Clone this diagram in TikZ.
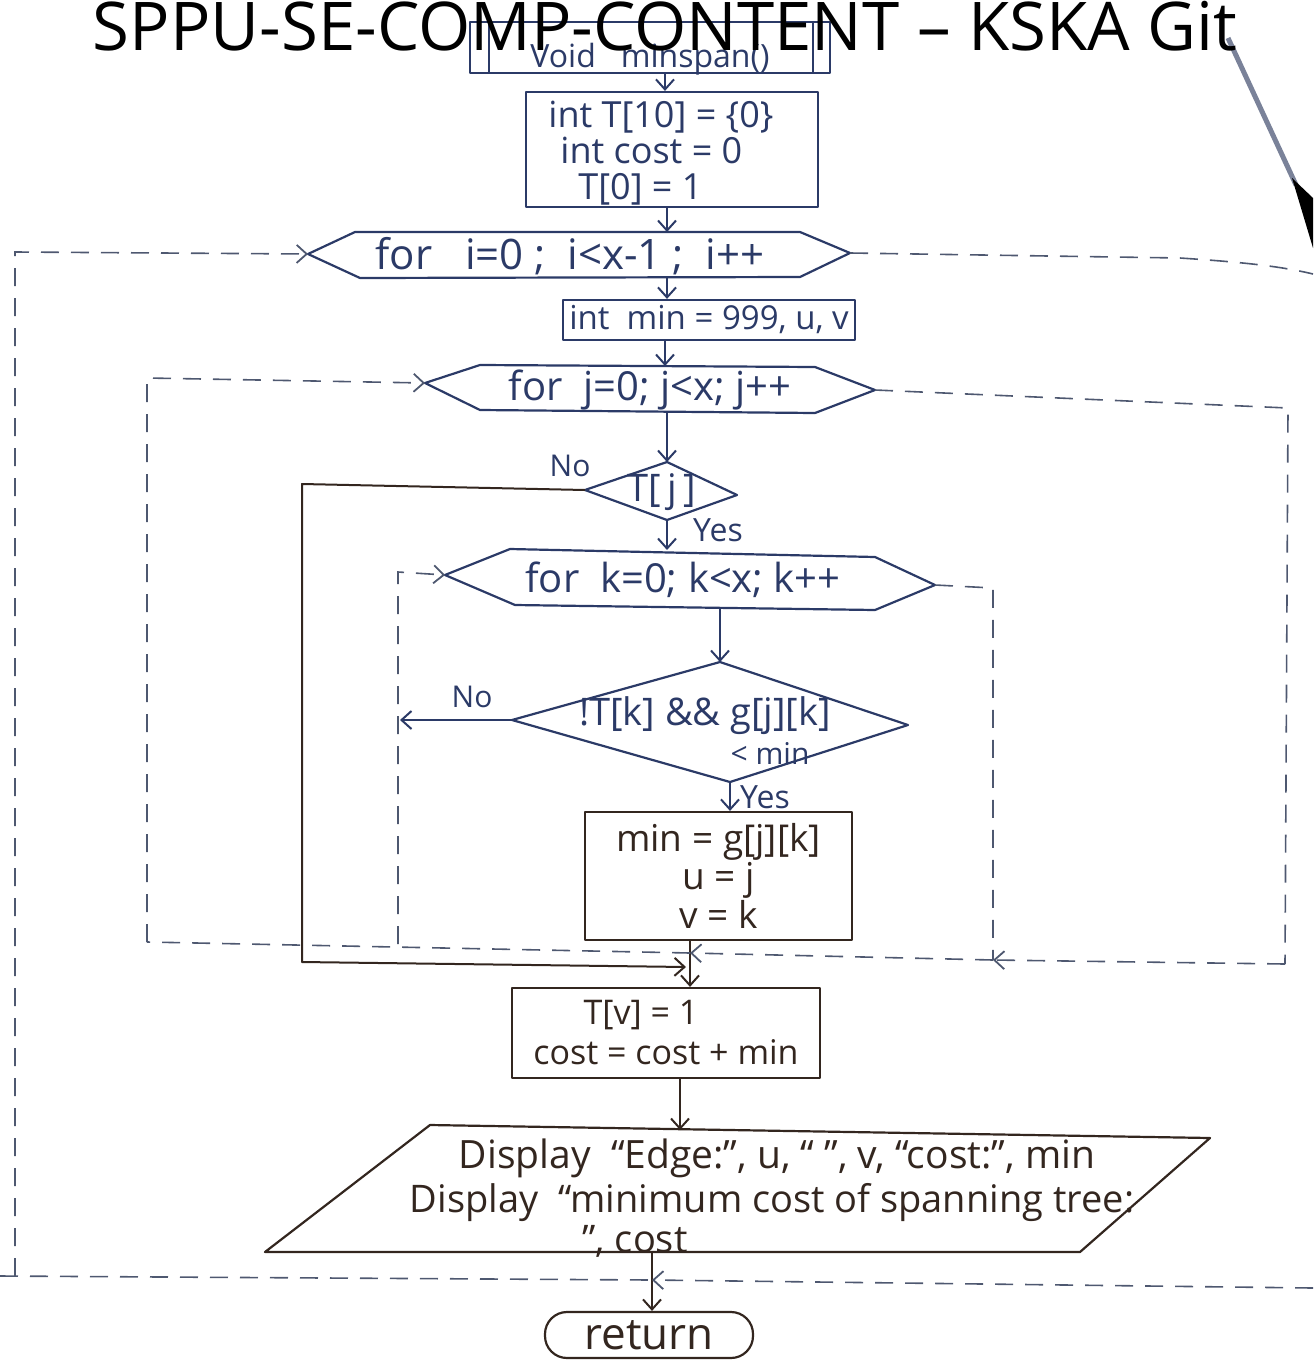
\documentclass[tikz,border=0pt]{standalone}
\usepackage{fontspec}
\setmainfont{Open Sans}
\usetikzlibrary{arrows.meta}
\definecolor{ink}{HTML}{2B3A67}
\definecolor{brn}{HTML}{33261F}
\definecolor{dashc}{HTML}{4E5870}
\definecolor{smear}{HTML}{7A8299}
\newcommand\handfont{\fontsize{16}{20}\selectfont}
\newcommand\hfs[1]{\fontsize{#1}{#1}\selectfont}
\tikzset{
  shp/.style={draw=#1, line width=1.1pt, line join=round},
  shp/.default=ink,
  box/.style={shp=#1, rectangle, inner sep=0pt, text=#1, font=\handfont},
  box/.default=ink,
  txt/.style={text=#1, font=\handfont, inner sep=0pt},
  txt/.default=ink,
  arr/.style={draw=#1, line width=1pt, -{Straight Barb[length=5pt,width=9pt,line width=1pt]}},
  arr/.default=ink,
  lnk/.style={draw=#1, line width=1pt, line join=round},
  lnk/.default=ink,
  dsh/.style={draw=dashc, line width=0.8pt, dash pattern=on 9pt off 6pt},
  darr/.style={dsh, -{Straight Barb[length=5pt,width=9pt,line width=0.9pt]}},
}
\begin{document}
\begin{tikzpicture}[x=0.5pt,y=-0.5pt]
\useasboundingbox (0,0) rectangle (1313,1365);

% ---------- top: void minspan() ----------
\node[box, minimum width=180pt, minimum height=25.5pt] (void) at (650,47.5) {};
\node[txt, font=\hfs{16}, anchor=base] (voidt) at (650,67) {Void\ \ \ minspan()};
\draw[shp] ([xshift=10pt]void.north west) -- ([xshift=10pt]void.south west);
\draw[shp] ([xshift=-9pt]void.north east) -- ([xshift=-9pt]void.south east);

% ---------- init box ----------
\node[box, minimum width=146pt, minimum height=57.5pt] (init) at (672,149.5) {};
\node[txt, anchor=north west, align=left, font=\fontsize{18}{18}\selectfont] (initt) at (548,101)
  {int T[10] = \{0\}\\\hspace*{6pt}int cost = 0\\\hspace*{15pt}T[0] = 1};
\draw[arr] ([xshift=7.5pt]void.south) -- ([xshift=7.5pt]void.south |- init.north);

% ---------- for i ----------
\draw[shp] (308,254) coordinate (fiL) -- (355,232) -- (800,232) -- (850,253) coordinate (fiR) -- (800,277) -- (360,278) -- cycle;
\coordinate (fiT) at (667,232);
\coordinate (fiB) at (667,278);
\node[txt, font=\hfs{21}] (fi) at (570,256) {for\ \ \ i=0 ; \ i<x-1 ; \ i++};
\draw[arr] (init.south -| fiT) -- (fiT);

% ---------- int min ----------
\node[box, minimum width=146pt, minimum height=20pt, font=\hfs{16.5}] (minb) at (709,320) {int\ \ min = 999, u, v};
\draw[arr] (fiB) -- (fiB |- minb.north);

% ---------- for j ----------
\draw[shp] (425,383) coordinate (fjL) -- (480,365) -- (815,367) -- (875,390) coordinate (fjR) -- (815,413) -- (480,410) -- cycle;
\coordinate (fjT) at (665,366);
\coordinate (fjB) at (667,411);
\node[txt, font=\hfs{20}] (fj) at (650,390) {for\ \ j=0;\ j<x;\ j++};
\draw[arr] (minb.south -| fjT) -- (fjT);

% ---------- T[j] ----------
\draw[shp] (585,490) coordinate (tjL) -- (667,462) coordinate (tjT) -- (737,495) -- (667,520) coordinate (tjB) -- cycle;
\node[txt, font=\hfs{19}] (tj) at (662,492) {T[\,j\,]};
\draw[arr] (fjB) -- (tjT);
\node[txt, font=\hfs{15}] (no1) at (570,466) {No};
\node[txt] (yes1) at (718,530) {Yes};

% ---------- for k ----------
\draw[shp] (445,575) coordinate (fkL) -- (510,549) -- (875,557) -- (935,585) coordinate (fkR) -- (875,610) -- (515,605) -- cycle;
\coordinate (fkT) at (667,550);
\coordinate (fkB) at (720,608);
\node[txt, font=\hfs{20}] (fk) at (683,580) {for\ \ k=0;\ k<x;\ k++};
\draw[arr] (tjB) -- (fkT);

% ---------- condition ----------
\draw[shp] (512,720) coordinate (cL) -- (720,662) coordinate (cT) -- (908,725) -- (730,782) coordinate (cB) -- cycle;
\node[txt, font=\hfs{19}] (c1) at (705,716) {!T[k] \&\& g[j][k]};
\node[txt, font=\hfs{15}] (c2) at (770,753) {< min};
\draw[arr] (fkB) -- (cT);
\coordinate (noEnd) at (400,720);
\draw[arr] (cL) -- (noEnd);
\node[txt, font=\hfs{15}] (no2) at (472,697) {No};
\node[txt] (yes2) at (765,797) {Yes};

% ---------- min = g[j][k] ----------
\node[box=brn, minimum width=133.5pt, minimum height=64pt, align=center, font=\fontsize{18.5}{18}\selectfont] (mon) at (718.5,876)
  {min = g[j][k]\\u = j\\v = k};
\draw[arr] (cB) -- (cB |- mon.north);

% ---------- T[v] = 1 ----------
\node[box=brn, minimum width=154pt, minimum height=45pt, align=center, font=\fontsize{17}{20}\selectfont] (tv) at (666,1033)
  {T[v] = 1\hspace*{25pt}\\cost = cost + min};
\coordinate (join) at (690,953);
\draw[arr=brn] (mon.south -| join) -- (tv.north -| join);

% ---------- output parallelogram ----------
\draw[shp=brn] (430,1125) -- (1210,1138) -- (1080,1252) -- (265,1252) -- cycle;
\coordinate (pT) at (680,1130);
\coordinate (pB) at (652,1252);
\node[txt=brn, font=\hfs{19.5}] (p1) at (777,1158) {Display \ “Edge:”, u, “ ”, v, “cost:”, min};
\node[txt=brn, font=\hfs{19}] (p2) at (772,1203) {Display \ “minimum cost of spanning tree:};
\node[txt=brn, font=\hfs{19}] (p3) at (635,1241) {”, cost};
\draw[arr=brn] (tv.south -| pT) -- (pT);

% ---------- return ----------
\node[box=brn, rounded corners=11pt, minimum width=104pt, minimum height=23pt, font=\hfs{22}] (ret) at (649,1335) {return};
\draw[arr=brn] (pB) -- (pB |- ret.north);

% ---------- T[j] No branch ----------
\coordinate (noA) at (302,484);
\coordinate (noB) at (302,962);
\draw[lnk=brn, -{Straight Barb[length=5pt,width=9pt,line width=1pt]}] (tjL) -- (noA) -- (noB) -- (686,967);

% ---------- dashed loop lines ----------
% outer i loop
\coordinate (oBL) at (15,1276);
\coordinate (oTL) at (15,252);
\coordinate (oX) at (652,1280);
\draw[dsh] (fiR) -- (1180,258) .. controls (1240,262) and (1280,266) .. (1313,274);
\draw[dsh] (0,1276) -- (oX);
\draw[darr] (oBL) -- (oTL) -- (fiL);
\draw[darr] (1313,1288) -- (oX);
% j loop
\coordinate (jR1) at (1288,408);
\coordinate (jR2) at (1285,964);
\coordinate (kR2) at (993,960);
\coordinate (jL1) at (147,942);
\coordinate (jL2) at (147,378);
\draw[dsh] (fjR) -- (jR1) -- (jR2);
\draw[darr] (jR2) -- (kR2);
\draw[darr] (kR2) -- (join);
\draw[dsh] (join) -- (jL1);
\draw[darr] (jL1) -- (jL2) -- (fjL);
% k loop
\coordinate (kR1) at (993,588);
\draw[dsh] (fkR) -- (kR1) -- (kR2);
\coordinate (kL1) at (398,944);
\coordinate (kL2) at (398,572);
\draw[darr] (kL1) -- (kL2) -- (fkL);

% ---------- photo artifact at top right ----------
\draw[line width=2.5pt, color=smear] (1228,38) -- (1296,185);
\fill[black] (1292,178) -- (1313,198) -- (1313,248) -- cycle;

% ---------- watermark ----------
\node[font=\hfs{33.6}, anchor=base, inner sep=0pt] (wm) at (665,50) {SPPU-SE-COMP-CONTENT – KSKA Git};
\end{tikzpicture}
\end{document}
